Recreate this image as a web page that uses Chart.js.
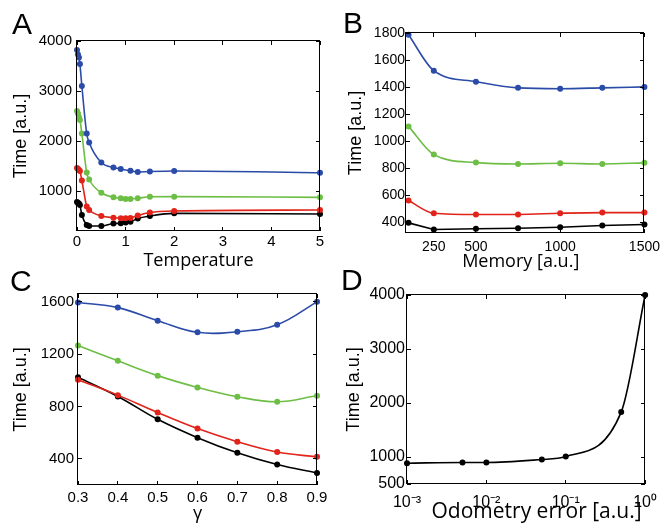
<!DOCTYPE html>
<html>
<head>
<meta charset="utf-8">
<script src="https://cdn.jsdelivr.net/npm/chart.js@4.4.1/dist/chart.umd.min.js"></script>
<style>
  body { margin: 0; background: #fff; }
  #wrap { position: relative; width: 666px; height: 525px; overflow: hidden; }
  canvas { position: absolute; }
  .tag { position: absolute; font: 30px "Liberation Sans", Arial, sans-serif; line-height: 30px; color: #000; z-index: 2; }
  .box { position: absolute; border: 1.5px solid #000; pointer-events: none; z-index: 1; }
  .mark { position: absolute; background: #000; pointer-events: none; z-index: 1; }
</style>
</head>
<body>
<div id="wrap">
  <canvas id="chart-a" width="333" height="275" style="left:0;top:0"></canvas>
  <canvas id="chart-b" width="333" height="275" style="left:333px;top:0"></canvas>
  <canvas id="chart-c" width="333" height="263" style="left:0;top:262px"></canvas>
  <canvas id="chart-d" width="333" height="263" style="left:333px;top:262px"></canvas>
  <div class="tag" style="left:12px;top:9px">A</div>
  <div class="tag" style="left:343px;top:8px">B</div>
  <div class="tag" style="left:10px;top:266px">C</div>
  <div class="tag" style="left:341px;top:265px">D</div>
</div>
<script>
// panel A: time vs temperature
const tempX = [0, 0.02, 0.04, 0.06, 0.1, 0.2, 0.25, 0.5, 0.75, 0.9, 1.0, 1.1, 1.25, 1.5, 2, 5];
const tempBlue = [3820, 3730, 3670, 3540, 3100, 2150, 1970, 1570, 1470, 1440, null, 1405, 1380, 1390, 1400, 1365];
const tempGreen = [2600, 2550, 2480, 2420, 2150, 1370, 1230, 965, 875, 855, 840, 840, 855, 885, 887, 873];
const tempRed = [1460, 1440, 1420, 1400, 1210, 690, 620, 500, 467, 455, 455, 460, 510, 570, 600, 620];
const tempBlack = [780, 760, 750, 720, 520, 320, 300, 300, 350, 355, 370, 385, 450, 500, 553, 540];
const tempTicks = [0, 1, 2, 3, 4, 5];
const timeTicksA = [1000, 2000, 3000, 4000];

// panel B: time vs memory
const memX = [100, 250, 500, 750, 1000, 1250, 1500];
const memBlue = [1787, 1521, 1440, 1394, 1388, 1394, 1401];
const memGreen = [1109, 900, 841, 831, 836, 831, 839];
const memRed = [560, 466, 457, 457, 466, 471, 471];
const memBlack = [395, 346, 351, 355, 363, 375, 383];
const memTicks = [250, 500, 1000, 1500];
const timeTicksB = [400, 600, 800, 1000, 1200, 1400, 1600, 1800];

// panel C: time vs gamma
const gammaX = [0.3, 0.4, 0.5, 0.6, 0.7, 0.8, 0.9];
const gammaBlue = [1595, 1556, 1456, 1367, 1372, 1425, 1600];
const gammaGreen = [1267, 1149, 1036, 946, 875, 836, 882];
const gammaRed = [1005, 887, 754, 631, 531, 452, 415];
const gammaBlack = [1023, 877, 702, 562, 446, 356, 292];
const gammaTicks = [0.3, 0.4, 0.5, 0.6, 0.7, 0.8, 0.9];
const timeTicksC = [400, 800, 1200, 1600];

// panel D: time vs odometry error
const odoX = [0.001, 0.005, 0.01, 0.05, 0.1, 0.5, 1];
const odoTime = [885, 898, 898, 953, 1009, 1832, 4000];
const odoTicks = [0.001, 0.01, 0.1, 1];
const odoTickLabels = ['10\u207B\u00B3', '10\u207B\u00B2', '10\u207B\u00B9', '10\u2070'];
const timeTicksD = [500, 1000, 2000, 3000, 4000];

const BLUE = '#2b4ba8', GREEN = '#6dbe45', RED = '#e2231a', BLACK = '#000000';
const HELV = '"Liberation Sans", Arial, sans-serif';
const MYRIAD = '"Open Sans", "Liberation Sans", sans-serif';
const TICK_LEN = 4;
const wrap = document.getElementById('wrap');

// MATLAB style box with inward ticks, placed from the chart's own area and scales
function addBox(chart) {
  const a = chart.chartArea;
  const ox = chart.canvas.offsetLeft, oy = chart.canvas.offsetTop;
  const box = document.createElement('div');
  box.className = 'box';
  box.style.left = (ox + a.left - 0.75) + 'px';
  box.style.top = (oy + a.top - 0.75) + 'px';
  box.style.width = (a.right - a.left - 1.5) + 'px';
  box.style.height = (a.bottom - a.top - 1.5) + 'px';
  wrap.appendChild(box);

  const mark = (l, t, w, h) => {
    const m = document.createElement('div');
    m.className = 'mark';
    m.style.left = l + 'px'; m.style.top = t + 'px';
    m.style.width = w + 'px'; m.style.height = h + 'px';
    wrap.appendChild(m);
  };
  const x = chart.scales.x, y = chart.scales.y;
  x.ticks.forEach(t => {
    const px = ox + x.getPixelForValue(t.value) - 0.5;
    mark(px, oy + a.bottom - TICK_LEN, 1, TICK_LEN);
    mark(px, oy + a.top, 1, TICK_LEN);
  });
  y.ticks.forEach(t => {
    const py = oy + y.getPixelForValue(t.value) - 0.5;
    mark(ox + a.left, py, TICK_LEN, 1);
    mark(ox + a.right - TICK_LEN, py, TICK_LEN, 1);
  });
}

function series(xs, ys, color, extra) {
  return Object.assign({
    data: xs.map((x, i) => ({ x: x, y: ys[i] })),
    borderColor: color,
    backgroundColor: color,
    borderWidth: 1.6,
    pointRadius: 3,
    pointBorderWidth: 0,
    pointHoverRadius: 3,
    spanGaps: true,
    clip: false
  }, extra || {});
}

function panel(id, p) {
  const chart = new Chart(document.getElementById(id), {
    type: 'line',
    data: { datasets: p.datasets },
    options: {
      responsive: false,
      animation: false,
      events: [],
      layout: { padding: { left: 0, top: p.top, right: p.right, bottom: 0 } },
      plugins: { legend: { display: false }, tooltip: { enabled: false } },
      scales: {
        x: {
          type: p.xType || 'linear',
          min: p.xMin, max: p.xMax,
          grid: { display: false, drawTicks: false },
          border: { display: false },
          ticks: {
            color: '#000', font: { family: HELV, size: p.tickSize }, padding: p.xPad,
            maxRotation: 0, autoSkip: false,
            callback: p.xLabel || (v => String(v))
          },
          title: {
            display: true, text: p.xTitle, color: '#000',
            font: { family: MYRIAD, size: p.xTitleSize || 18 },
            padding: { top: 0, bottom: p.xTitleBottom }
          },
          afterBuildTicks: s => { s.ticks = p.xTicks.map(v => ({ value: v })); },
          afterFit: s => { s.height = p.xHeight; }
        },
        y: {
          min: p.yMin, max: p.yMax,
          grid: { display: false, drawTicks: false },
          border: { display: false },
          ticks: {
            color: '#000', font: { family: HELV, size: p.tickSize }, padding: p.yPad,
            autoSkip: false, callback: v => String(v)
          },
          title: {
            display: true, text: 'Time [a.u.]', color: '#000',
            font: { family: HELV, size: 18 },
            padding: { top: p.yTitleLeft, bottom: 0 }
          },
          afterBuildTicks: s => { s.ticks = p.yTicks.map(v => ({ value: v })); },
          afterFit: s => { s.width = p.yWidth; }
        }
      }
    }
  });
  addBox(chart);
  return chart;
}

const smooth = { cubicInterpolationMode: 'monotone' };

panel('chart-a', {
  datasets: [
    series(tempX, tempBlue, BLUE, smooth),
    series(tempX, tempGreen, GREEN, smooth),
    series(tempX, tempRed, RED, smooth),
    series(tempX, tempBlack, BLACK, smooth)
  ],
  xMin: 0, xMax: 5, yMin: 200, yMax: 4000,
  xTicks: tempTicks, yTicks: timeTicksA,
  top: 41, right: 13, xHeight: 44, yWidth: 77,
  tickSize: 15, xPad: 2, yPad: 5,
  xTitle: 'Temperature', xTitleBottom: 3, yTitleLeft: 10
});

panel('chart-b', {
  datasets: [
    series(memX, memBlue, BLUE, smooth),
    series(memX, memGreen, GREEN, smooth),
    series(memX, memRed, RED, smooth),
    series(memX, memBlack, BLACK, { tension: 0 })
  ],
  xMin: 85, xMax: 1500, yMin: 320, yMax: 1800,
  xTicks: memTicks, yTicks: timeTicksB,
  top: 33, right: 17, xHeight: 42, yWidth: 73,
  tickSize: 14, xPad: 6, yPad: 1,
  xTitle: 'Memory [a.u.]\u2002', xTitleBottom: 2, yTitleLeft: 12
});

panel('chart-c', {
  datasets: [
    series(gammaX, gammaBlue, BLUE, { tension: 0.4 }),
    series(gammaX, gammaGreen, GREEN, { tension: 0.4 }),
    series(gammaX, gammaRed, RED, { tension: 0.4 }),
    series(gammaX, gammaBlack, BLACK, { tension: 0.4 })
  ],
  xMin: 0.3, xMax: 0.9, yMin: 200, yMax: 1660,
  xTicks: gammaTicks, yTicks: timeTicksC,
  top: 32, right: 16, xHeight: 40, yWidth: 78,
  tickSize: 15, xPad: 4, yPad: 4,
  xTitle: '\u03B3', xTitleBottom: 0, yTitleLeft: 10
});

panel('chart-d', {
  datasets: [
    series(odoX, odoTime, BLACK, smooth)
  ],
  xType: 'logarithmic',
  xMin: 0.001, xMax: 1, yMin: 500, yMax: 4000,
  xTicks: odoTicks, yTicks: timeTicksD,
  xLabel: (v, i) => odoTickLabels[i],
  top: 33, right: 17, xHeight: 41, yWidth: 74,
  tickSize: 16, xPad: 9, yPad: 2,
  xTitle: '\u2003Odometry error [a.u.]', xTitleSize: 21, xTitleBottom: 0, yTitleLeft: 10
});
</script>
</body>
</html>
